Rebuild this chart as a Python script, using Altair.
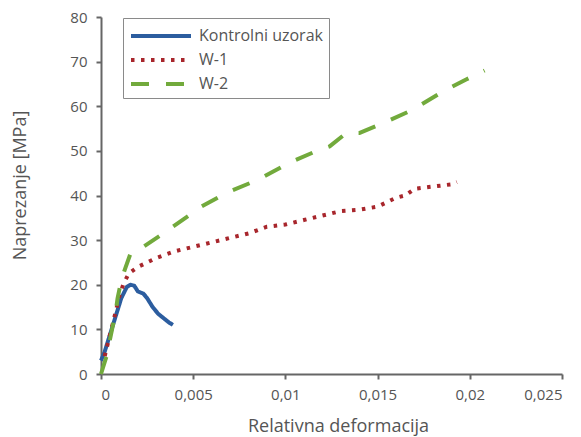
import altair as alt
import pandas as pd

series_names = ["Kontrolni uzorak", "W-1", "W-2"]

k_strain = [0.0, 0.0002, 0.0005, 0.0008, 0.0011, 0.0014, 0.0016, 0.0018, 0.002, 0.0023, 0.0025, 0.0028, 0.0031, 0.0034, 0.0037, 0.0039]
k_stress = [3.0, 5.0, 9.0, 13.0, 17.0, 19.5, 20.0, 19.8, 18.5, 18.0, 17.0, 15.0, 13.5, 12.5, 11.5, 11.0]

w1_strain = [0.0002, 0.0005, 0.0008, 0.001, 0.0012, 0.0015, 0.002, 0.003, 0.004, 0.005, 0.006, 0.007, 0.008, 0.009, 0.010, 0.011, 0.012, 0.013, 0.014, 0.015, 0.0155, 0.016, 0.0165, 0.017, 0.018, 0.019, 0.0193]
w1_stress = [4.0, 9.0, 14.0, 17.5, 20.0, 22.5, 24.0, 26.0, 27.5, 28.5, 29.5, 30.5, 31.5, 33.0, 33.5, 34.5, 35.5, 36.5, 36.8, 37.5, 38.5, 39.5, 40.0, 41.5, 42.0, 42.5, 43.0]

w2_strain = [0.0, 0.0003, 0.0005, 0.0008, 0.0009, 0.0011, 0.0013, 0.0016, 0.0023, 0.0032, 0.0039, 0.0048, 0.0054, 0.0068, 0.0085, 0.0102, 0.0117, 0.0124, 0.0133, 0.014, 0.0153, 0.0169, 0.0185, 0.0198, 0.0208]
w2_stress = [0.0, 4.0, 8.0, 14.0, 17.0, 21.0, 23.5, 27.0, 28.5, 31.0, 33.0, 35.6, 37.4, 40.6, 43.5, 47.3, 50.0, 51.0, 54.0, 54.0, 56.2, 59.2, 63.2, 66.0, 68.0]

x_ticks = [0, 0.005, 0.01, 0.015, 0.02, 0.025]
y_ticks = [0, 10, 20, 30, 40, 50, 60, 70, 80]

rows = []
for name, xs, ys in [(series_names[0], k_strain, k_stress), (series_names[1], w1_strain, w1_stress), (series_names[2], w2_strain, w2_stress)]:
    for i, (a, b) in enumerate(zip(xs, ys)):
        rows.append({"serija": name, "strain": a, "stress": b, "idx": i})
df = pd.DataFrame(rows)

FONT = "Open Sans"
colors = ["#2c5d9f", "#a8262c", "#72aa3c"]

base = alt.Chart(df)

lines = base.mark_line(strokeWidth=4, strokeCap="butt", strokeJoin="round").encode(
    x=alt.X("strain:Q",
            scale=alt.Scale(domain=[0, 0.025], nice=False, zero=False),
            axis=alt.Axis(values=x_ticks, labelExpr="replace(format(datum.value, ''), '.', ',')",
                          title="Relativna deformacija", grid=False,
                          titleX=237, titleY=43, titleBaseline="top")),
    y=alt.Y("stress:Q",
            scale=alt.Scale(domain=[0, 80], nice=False),
            axis=alt.Axis(values=y_ticks, title="Naprezanje [MPa]", grid=False,
                          titleX=-81, titleY=168, titleBaseline="middle", titleAngle=270)),
    color=alt.Color("serija:N", scale=alt.Scale(domain=series_names, range=colors),
                    legend=alt.Legend(title=None, orient="none", legendX=22, legendY=1,
                                      symbolType="M-1,0L5,0", symbolSize=400, symbolStrokeWidth=4,
                                      labelFontSize=16, labelFont=FONT, labelColor="#555555",
                                      rowPadding=4, strokeColor="#8a8a8a", padding=6,
                                      labelOffset=46, fillColor="white")),
    strokeDash=alt.StrokeDash("serija:N", scale=alt.Scale(domain=series_names, range=[[1, 0], [3.5, 6.5], [18, 17]]),
                              legend=None),
    order="idx:Q",
    detail="serija:N",
)

chart = lines.properties(
    width=461, height=357,
    autosize=alt.AutoSizeParams(type="none"),
    padding={"left": 101, "top": 17, "right": 19, "bottom": 63},
).configure_view(stroke=None).configure_axis(
    domainColor="#666666", domainWidth=2, tickColor="#666666", tickWidth=2, tickSize=5,
    labelFont=FONT, labelFontSize=15, labelColor="#555555", labelPadding=8,
    titleFont=FONT, titleFontSize=18, titleColor="#555555", titleFontWeight="normal",
).configure_axisY(labelPadding=9)

chart.save("out.html", embed_options={"renderer": "svg", "actions": False})
